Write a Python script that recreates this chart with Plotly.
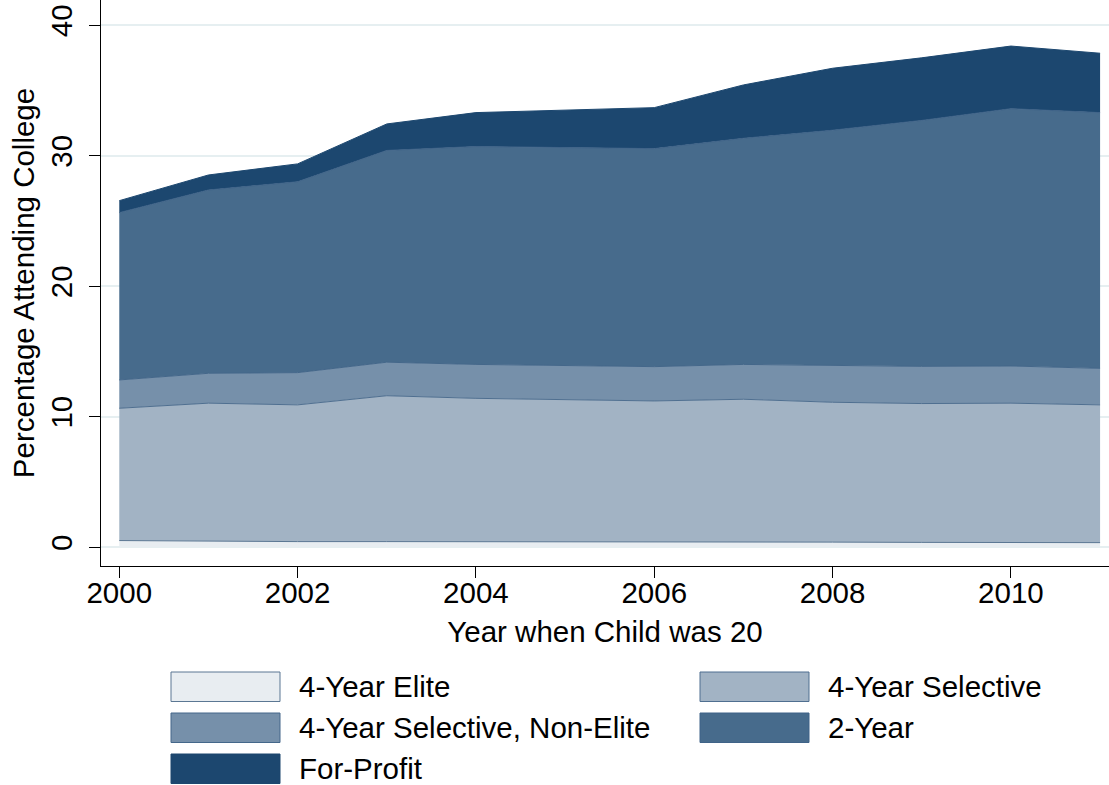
import plotly.graph_objects as go

years = list(range(2000, 2012))

elite = [0.50, 0.45, 0.42, 0.42, 0.42, 0.40, 0.40, 0.40, 0.38, 0.36, 0.35, 0.34]
selective = [10.14, 10.58, 10.48, 11.18, 10.98, 10.90, 10.80, 10.93, 10.72, 10.64, 10.68, 10.56]
selective_non_elite = [2.17, 2.29, 2.47, 2.57, 2.60, 2.60, 2.63, 2.67, 2.80, 2.85, 2.85, 2.80]
two_year = [12.82, 14.05, 14.63, 16.23, 16.70, 16.74, 16.71, 17.33, 18.05, 18.85, 19.72, 19.60]
for_profit = [0.92, 1.15, 1.37, 2.03, 2.60, 2.86, 3.14, 4.09, 4.75, 4.80, 4.80, 4.55]

series_names = ["4-Year Elite", "4-Year Selective", "4-Year Selective, Non-Elite", "2-Year", "For-Profit"]
series_values = [elite, selective, selective_non_elite, two_year, for_profit]
fill_colors = ["#e8edf1", "#a2b3c4", "#7690aa", "#476b8c", "#1c476f"]
line_colors = ["#5b7793", "#4f6f90", "#44678a", "#3f6388", "#1c476f"]

y_ticks = [0, 10, 20, 30, 40]
x_ticks = [2000, 2002, 2004, 2006, 2008, 2010]

FONT = "Liberation Sans, Arial, sans-serif"
FS = 29.5

fig = go.Figure()
for name, vals, fc, lc in zip(series_names, series_values, fill_colors, line_colors):
    fig.add_trace(go.Scatter(
        x=years, y=vals, name=name, mode="lines", stackgroup="one",
        fillcolor=fc, line=dict(color=lc, width=1), showlegend=False,
    ))

# Custom legend (two columns, row-major order)
legend_layout = [(0, 0), (1, 0), (0, 1), (1, 1), (0, 2)]
col_x = [171, 700]
row_y = [672, 713, 754]
box_w, box_h = 109, 29.5
W, H = 1109, 785
PL, PB = 101, 566
for (col, row), name, fc, lc in zip(legend_layout, series_names, fill_colors, line_colors):
    x0 = col_x[col]
    y0 = row_y[row]
    fig.add_shape(type="rect", xref="paper", yref="paper",
                  x0=(x0 - PL) / (W - PL), x1=(x0 + box_w - PL) / (W - PL),
                  y0=-(y0 + box_h - PB) / PB, y1=-(y0 - PB) / PB,
                  fillcolor=fc, line=dict(color=lc, width=1))
    fig.add_annotation(xref="paper", yref="paper",
                       x=(x0 + box_w + 17 - PL) / (W - PL),
                       y=-(y0 + box_h / 2 - PB) / PB,
                       text=name, showarrow=False, xanchor="left", yanchor="middle",
                       font=dict(family=FONT, size=FS, color="black"))

fig.update_layout(
    width=W, height=H,
    margin=dict(l=PL, r=0, t=0, b=H - PB),
    paper_bgcolor="white", plot_bgcolor="white",
    font=dict(family=FONT, size=FS, color="black"),
)
fig.update_xaxes(
    range=[1999.795, 2011.1], tickvals=x_ticks, ticktext=[str(t) for t in x_ticks],
    showgrid=False, zeroline=False, showline=True, linecolor="black", linewidth=1.3,
    ticks="outside", ticklen=11, tickwidth=1.3, tickcolor="black",
    ticklabelstandoff=-11,
    tickfont=dict(family=FONT, size=FS),
    title=dict(text="Year when Child was 20", font=dict(family=FONT, size=FS), standoff=13),
)
fig.update_yaxes(
    range=[-1.45, 41.93], tickvals=y_ticks, ticktext=[str(t) for t in y_ticks],
    showgrid=True, gridcolor="#e6eff1", gridwidth=1.5, zeroline=False,
    showline=True, linecolor="black", linewidth=1.3,
    ticks="outside", ticklen=11, tickwidth=1.3, tickcolor="black", tickangle=-90,
    ticklabelstandoff=5,
    tickfont=dict(family=FONT, size=FS),
    title=dict(text="Percentage Attending College", font=dict(family=FONT, size=FS), standoff=1),
)

fig.write_html("out.html", config={"displayModeBar": False},
               post_script="document.body.style.margin='0px';")
